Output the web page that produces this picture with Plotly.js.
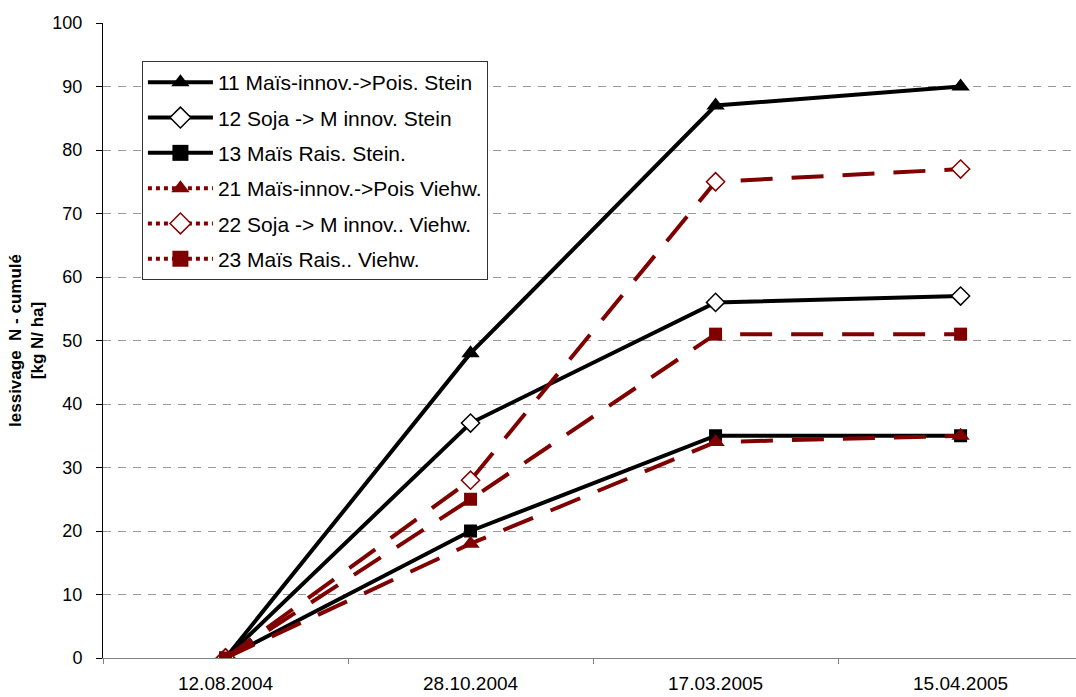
<!DOCTYPE html>
<html>
<head>
<meta charset="utf-8">
<script src="https://cdn.plot.ly/plotly-3.0.1.min.js"></script>
<style>
  html, body { margin: 0; padding: 0; background: #fff; overflow: hidden; }
  #chart { width: 1076px; height: 697px; }
</style>
</head>
<body>
<div id="chart"></div>
<script>
// Sampling dates
const dates = ['12.08.2004', '28.10.2004', '17.03.2005', '15.04.2005'];

// Cumulative N leaching [kg N/ha]
const s11 = [0, 48, 87, 90];
const s12 = [0, 37, 56, 57];
const s13 = [0, 20, 35, 35];
const s21 = [0, 18, 34, 35];
const s22 = [0, 28, 75, 77];
const s23 = [0, 25, 51, 51];

const names = [
  '11 Maïs-innov.->Pois. Stein',
  '12 Soja -> M innov. Stein',
  '13 Maïs Rais. Stein.',
  '21 Maïs-innov.->Pois Viehw.',
  '22 Soja -> M innov.. Viehw.',
  '23 Maïs Rais.. Viehw.'
];

const BLACK = '#000000';
const RED = '#800000';
const FONT = 'Liberation Sans, Arial, sans-serif';

const styles = [
  { color: BLACK, symbol: 'triangle-up', size: 16, fill: BLACK, dashed: false },
  { color: BLACK, symbol: 'diamond', size: 14, fill: '#ffffff', dashed: false },
  { color: BLACK, symbol: 'square', size: 13, fill: BLACK, dashed: false },
  { color: RED, symbol: 'triangle-up', size: 16, fill: RED, dashed: true },
  { color: RED, symbol: 'diamond', size: 14, fill: '#ffffff', dashed: true },
  { color: RED, symbol: 'square', size: 13, fill: RED, dashed: true }
];

const series = [s11, s12, s13, s21, s22, s23];

const markerOf = (st, scale) => ({
  symbol: st.symbol, size: st.size * scale, color: st.fill,
  line: { color: st.color, width: st.fill === '#ffffff' ? 1.5 : 0 }
});

const traces = [];
// Plotted lines
series.forEach((vals, i) => {
  const st = styles[i];
  traces.push({
    type: 'scatter', mode: 'lines+markers',
    x: dates, y: vals, name: names[i], showlegend: false,
    line: { color: st.color, width: 4, dash: st.dashed ? '32px,19px' : 'solid' },
    marker: markerOf(st, 1),
    hoverinfo: 'x+y+name'
  });
});
// Legend keys (dotted key for the Viehw. series)
series.forEach((vals, i) => {
  const st = styles[i];
  traces.push({
    type: 'scatter', mode: 'lines+markers',
    x: dates, y: vals.map(() => null), name: names[i], showlegend: true,
    legendgroup: 'g' + i,
    line: { color: st.color, width: 4, dash: st.dashed ? 'dot' : 'solid' },
    marker: markerOf(st, 1.25),
    hoverinfo: 'skip'
  });
});

const layout = {
  width: 1076, height: 697,
  margin: { l: 103, r: 0, t: 23, b: 39, pad: 0 },
  paper_bgcolor: '#ffffff', plot_bgcolor: '#ffffff',
  font: { family: FONT, size: 18, color: '#000' },
  showlegend: true,
  legend: {
    x: 0.04, xanchor: 'left', y: 0.94, yanchor: 'top',
    bgcolor: '#ffffff', bordercolor: '#333333', borderwidth: 1,
    font: { family: FONT, size: 21, color: '#000' },
    itemwidth: 65, traceorder: 'grouped', tracegroupgap: 5
  },
  xaxis: {
    type: 'category', range: [-0.5, 3.471],
    showline: true, linecolor: '#808080', linewidth: 1,
    ticks: 'outside', ticklen: 5, tickcolor: '#808080', tickson: 'boundaries',
    showgrid: false, zeroline: false, fixedrange: true,
    ticklabelstandoff: 8,
    tickfont: { family: FONT, size: 19, color: '#000' }
  },
  yaxis: {
    range: [0, 100], dtick: 10, tick0: 0,
    showline: true, linecolor: '#000000', linewidth: 1,
    ticks: 'outside', ticklen: 6, tickcolor: '#000000',
    showgrid: true, gridcolor: '#999999', griddash: '8px,7px', gridwidth: 1,
    zeroline: false, fixedrange: true,
    ticklabelstandoff: 10,
    tickfont: { family: FONT, size: 18, color: '#000' },
    title: {
      text: '<b>lessivage  N - cumulé<br>[kg N/ ha]</b>',
      font: { family: FONT, size: 17, color: '#000' },
      standoff: 4
    }
  }
};

Plotly.newPlot('chart', traces, layout, { displayModeBar: false, staticPlot: true });
</script>
</body>
</html>
